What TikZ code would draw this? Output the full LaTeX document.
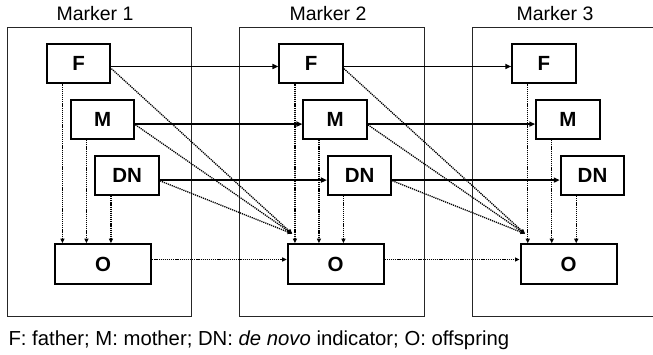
\documentclass[tikz,border=0pt]{standalone}
\usepackage{fontspec}
\setmainfont{Liberation Sans}
\usetikzlibrary{arrows.meta}
\begin{document}
\begin{tikzpicture}[x=1pt,y=-1pt,
  panel/.style={draw=black!85, line width=0.8pt},
  box/.style={draw, line width=2pt, minimum width=63.5pt, minimum height=39.5pt,
    inner sep=0pt, font=\fontsize{20.5}{24}\selectfont\bfseries},
  obox/.style={box, minimum width=96pt, minimum height=40pt},
  flow/.style={line width=1.6pt, -{Triangle[length=6pt,width=5pt]}},
  link/.style={line width=1.3pt, dash pattern=on 1.2pt off 0.9pt,
    -{Triangle[length=4.5pt,width=4pt]}},
  title/.style={font=\fontsize{19.5}{24}\selectfont, anchor=base}]
\useasboundingbox (0,0) rectangle (653,355);

% three marker panels, each with F, M, DN and O boxes
\foreach \i/\dx in {1/0, 2/232.5, 3/465.3} {
  \draw[panel] (7+\dx,27) rectangle (191.5+\dx,316);
  \node[box]  (F\i)  at (78.7+\dx,63.7)  {F};
  \node[box]  (M\i)  at (102.7+\dx,119.3) {M};
  \node[box]  (DN\i) at (127.2+\dx,175.3) {DN};
  \node[obox] (O\i)  at (103.2+\dx,264.2) {O};
  \coordinate (C\i) at ([xshift=5.5pt,yshift=9.5pt]O\i.north west);
  % within-marker dependencies
  \draw[link] ([xshift=16.5pt]F\i.south west)  -- ([xshift=16.5pt]F\i.south west  |- O\i.north);
  \draw[link] ([xshift=16.5pt]M\i.south west)  -- ([xshift=16.5pt]M\i.south west  |- O\i.north);
  \draw[link] ([xshift=16.5pt]DN\i.south west) -- ([xshift=16.5pt]DN\i.south west |- O\i.north);
}

\node[title] (T1) at (95,20.5)  {Marker 1};
\node[title] (T2) at (328,20.5) {Marker 2};
\node[title] (T3) at (555,20.5) {Marker 3};

% dependencies between consecutive markers
\foreach \a/\b in {1/2, 2/3} {
  \draw[flow] ([yshift=-2.8pt]F\a.east)  -- ([yshift=-2.8pt]F\b.west);
  \draw[flow] ([yshift=-4.8pt]M\a.east)  -- ([yshift=-4.8pt]M\b.west);
  \draw[flow] ([yshift=-4.8pt]DN\a.east) -- ([yshift=-4.8pt]DN\b.west);
  \draw[link] ([yshift=4.7pt]O\a.east) -- ([yshift=4.7pt]O\b.west);
  \draw[link] ([yshift=-5pt]F\a.east)  -- (C\b);
  \draw[link] ([yshift=-5.5pt]M\a.east)  -- (C\b);
  \draw[link] ([yshift=-5.5pt]DN\a.east) -- (C\b);
}

\node[anchor=base west, font=\fontsize{20.3}{24}\selectfont] (cap) at (5,345)
  {F: father; M: mother; DN: \textit{de novo} indicator; O: offspring};
\end{tikzpicture}
\end{document}
